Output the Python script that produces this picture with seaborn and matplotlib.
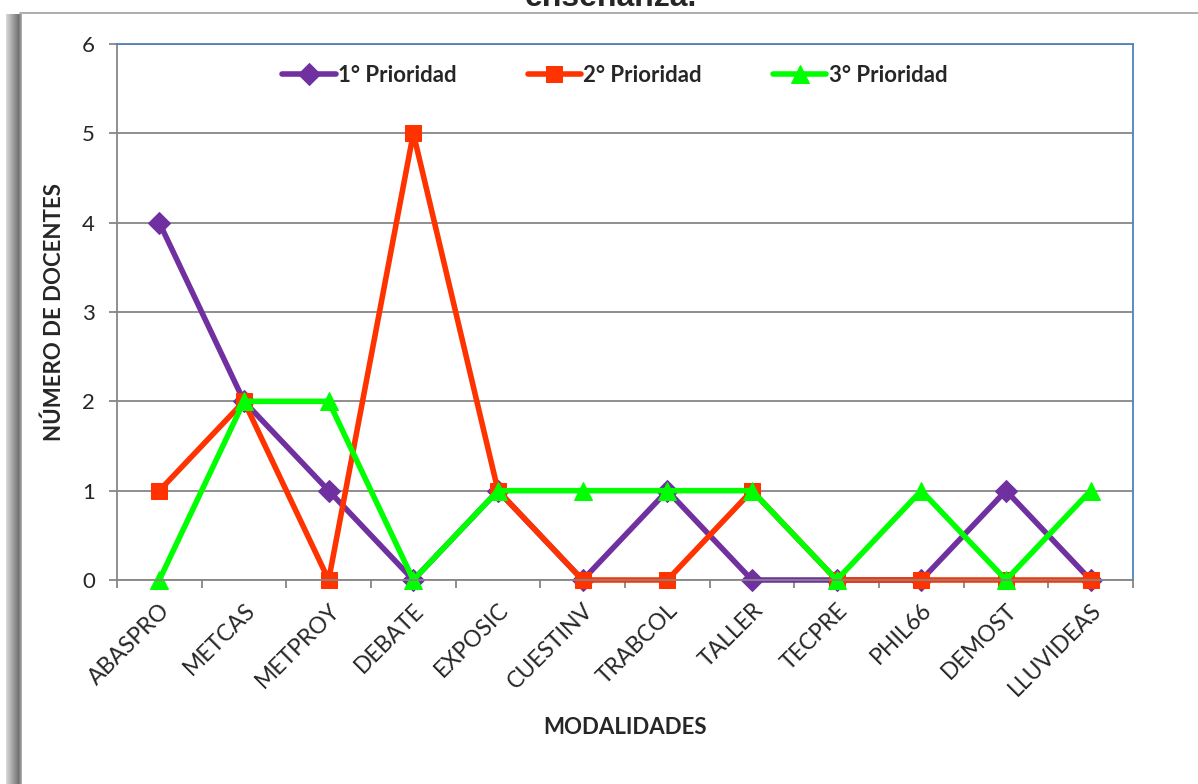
import matplotlib
matplotlib.use("Agg")
import matplotlib.pyplot as plt
import seaborn as sns
import numpy as np
import pandas as pd
from matplotlib.lines import Line2D

categories = ["ABASPRO", "METCAS", "METPROY", "DEBATE", "EXPOSIC", "CUESTINV",
              "TRABCOL", "TALLER", "TECPRE", "PHIL66", "DEMOST", "LLUVIDEAS"]
prio1 = [4, 2, 1, 0, 1, 0, 1, 0, 0, 0, 1, 0]
prio2 = [1, 2, 0, 5, 1, 0, 0, 1, 0, 0, 0, 0]
prio3 = [0, 2, 2, 0, 1, 1, 1, 1, 0, 1, 0, 1]
series_names = ["1° Prioridad", "2° Prioridad", "3° Prioridad"]
yticks = [0, 1, 2, 3, 4, 5, 6]

sns.set_theme(style="white")
plt.rcParams['font.family'] = ['Lato', 'DejaVu Sans']

W, H = 1198, 784
fig = plt.figure(figsize=(W / 100, H / 100), dpi=100)

# left shadow bar
sh = fig.add_axes([6 / W, 0, 16 / W, (H - 14) / H])
grad = np.concatenate([np.linspace(0.85, 0.45, 40), np.linspace(0.45, 0.7, 10)])[None, :]
sh.imshow(np.repeat(grad, 10, axis=0), cmap="gray", vmin=0, vmax=1, aspect="auto")
sh.axis("off")
# top border line
fig.add_artist(Line2D([20 / W, 1], [1 - 12.5 / H, 1 - 12.5 / H], color="#a0a0a0", lw=1.2))

x0, x1, y0, y1 = 117, 1133, 44, 580
ax = fig.add_axes([x0 / W, 1 - y1 / H, (x1 - x0) / W, (y1 - y0) / H])

styles = [
    (prio1, "#7030A0", "D", 11),
    (prio2, "#FF3300", "s", 11),
    (prio3, "#00FF00", "^", 13),
]
xs = np.arange(len(categories))
for (vals, col, mk, ms), name in zip(styles, series_names):
    sns.lineplot(x=xs, y=vals, ax=ax, color=col, lw=4, marker=mk, markersize=ms,
                 markeredgecolor=col, label=name, sort=False, legend=True, clip_on=False)

ax.set_xlim(-0.5, len(categories) - 0.5)
ax.set_ylim(0, 6)
ax.set_yticks(yticks)
ax.set_yticklabels([str(v) for v in yticks], fontsize=16)
ax.yaxis.grid(True, color="#868686", lw=1.3)
ax.set_axisbelow(True)

ax.set_xticks(xs)
ax.set_xticklabels(categories, rotation=45, ha="right", rotation_mode="anchor", fontsize=16.5)
ax.tick_params(axis="x", length=0, pad=14)
ax.set_xticks(np.arange(-0.5, len(categories), 1), minor=True)
ax.tick_params(axis="x", which="minor", length=6, color="#868686", width=1.3, direction="out")
ax.tick_params(axis="y", length=6, color="#868686", width=1.3, direction="out", pad=10)
ax.xaxis.set_ticks_position("bottom")
ax.yaxis.set_ticks_position("left")

for s in ["left", "bottom"]:
    ax.spines[s].set_color("#868686")
    ax.spines[s].set_linewidth(1.3)
for s in ["top", "right"]:
    ax.spines[s].set_color("#4F81BD")
    ax.spines[s].set_linewidth(1.3)

ax.set_xlabel("MODALIDADES", fontsize=16, fontweight="bold", labelpad=12)
ax.set_ylabel("NÚMERO DE DOCENTES", fontsize=16, fontweight="bold", labelpad=12)

leg = ax.legend(loc="center", bbox_to_anchor=(0.49, 0.942), ncol=3, frameon=False,
                fontsize=16, handlelength=2.4, columnspacing=3.2, handletextpad=0.1)
for t in leg.get_texts():
    t.set_fontweight("bold")

fig.text(611 / W, 1 - 6 / H, "enseñanza.", ha="center", va="baseline", fontsize=23,
         fontweight="bold", family="Liberation Sans")

fig.savefig("out.png", dpi=100)
